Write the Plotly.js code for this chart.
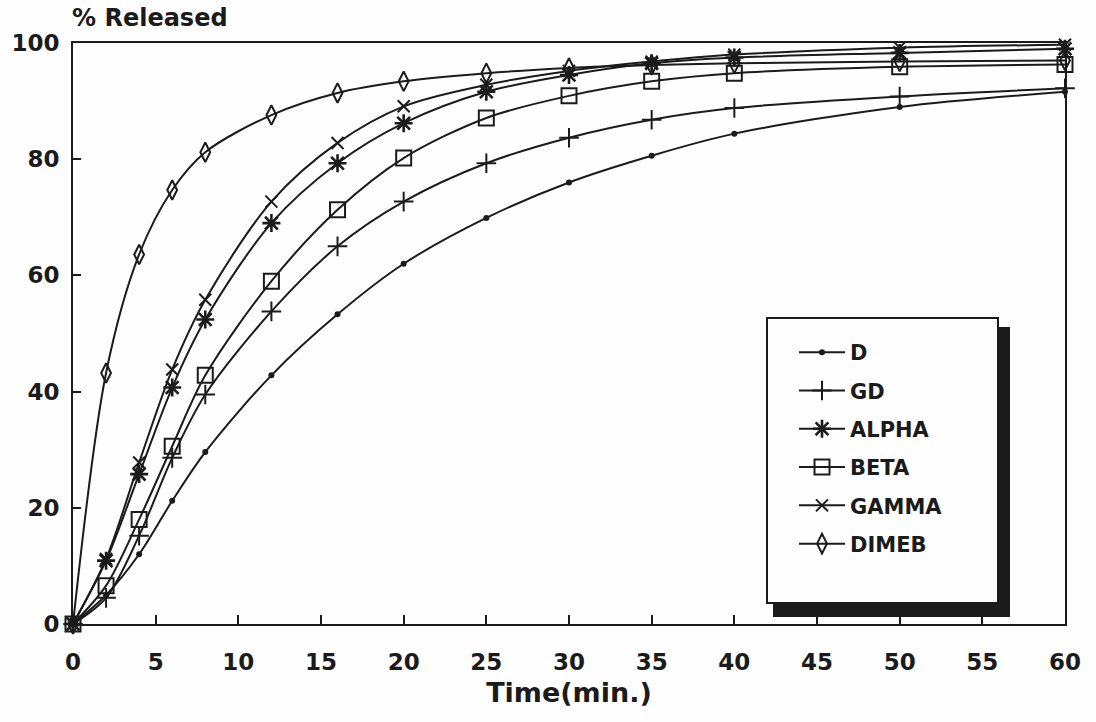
<!DOCTYPE html>
<html>
<head>
<meta charset="utf-8">
<script src="https://cdn.plot.ly/plotly-3.0.1.min.js"></script>
<style>
  html, body { margin: 0; padding: 0; background: #fefefe; }
  #chart { width: 1096px; height: 722px; }
</style>
</head>
<body>
<div id="chart"></div>
<script>
// Sampling times (min.)
const times = [0, 2, 4, 6, 8, 12, 16, 20, 25, 30, 35, 40, 50, 60];

// Cumulative drug released (%)
const releasedD     = [0, 5.0, 12.0, 21.2, 29.6, 42.8, 53.3, 62.0, 69.9, 76.0, 80.6, 84.4, 89.0, 91.6];
const releasedGD    = [0, 4.5, 15.2, 28.6, 39.5, 53.8, 65.0, 72.7, 79.3, 83.7, 86.8, 88.8, 90.8, 92.2];
const releasedAlpha = [0, 10.9, 25.8, 40.7, 52.4, 69.0, 79.3, 86.2, 91.6, 94.5, 96.5, 97.5, 98.3, 99.0];
const releasedBeta  = [0, 6.6, 18.0, 30.6, 42.8, 59.0, 71.3, 80.2, 87.1, 90.9, 93.4, 94.8, 95.9, 96.3];
const releasedGamma = [0, 11.2, 27.8, 43.8, 55.8, 72.7, 82.8, 89.1, 92.8, 95.2, 96.8, 98.0, 99.2, 99.7];
const releasedDimeb = [0, 43.2, 63.6, 74.7, 81.2, 87.6, 91.4, 93.4, 94.8, 95.7, 96.2, 96.5, 96.8, 97.0];

const seriesNames = ['D', 'GD', 'ALPHA', 'BETA', 'GAMMA', 'DIMEB'];
const seriesValues = [releasedD, releasedGD, releasedAlpha, releasedBeta, releasedGamma, releasedDimeb];

// Axis ticks
const xTicks = [0, 5, 10, 15, 20, 25, 30, 35, 40, 45, 50, 55, 60];
const yTicks = [0, 20, 40, 60, 80, 100];

const ink = '#1b1b1b';

// Marker style per series
const markerStyles = [
  { symbol: 'circle', size: 6, color: ink, line: { width: 0 } },
  { symbol: 'cross-thin', size: 14, color: ink, line: { width: 2, color: ink } },
  { symbol: 'asterisk', size: 15, color: ink, line: { width: 2.6, color: ink } },
  { symbol: 'square-open', size: 15, color: ink, line: { width: 2, color: ink } },
  { symbol: 'x-thin', size: 12, color: ink, line: { width: 2, color: ink } },
  { symbol: 'diamond-tall-open', size: 14, color: ink, line: { width: 2, color: ink } }
];

const traces = seriesNames.map((name, i) => ({
  type: 'scatter',
  mode: 'lines+markers',
  name: name,
  legendgroup: name,
  x: times,
  y: seriesValues[i],
  line: { color: ink, width: 2, shape: 'spline', smoothing: 0.9 },
  marker: markerStyles[i],
  cliponaxis: false
}));

// Plot area in pixels
const L = 73, R = 31, T = 43, B = 98;
const W = 1096, H = 722;
const pw = W - L - R, ph = H - T - B;
const px = v => (v - L) / pw;
const py = v => (H - B - v) / ph;

const tickFont = { family: 'DejaVu Sans', size: 23, weight: 'bold', color: ink };

const layout = {
  width: W,
  height: H,
  margin: { l: L, r: R, t: T, b: B, pad: 0 },
  paper_bgcolor: '#fefefe',
  plot_bgcolor: '#fefefe',
  showlegend: true,
  legend: {
    x: px(794), y: py(332), xanchor: 'left', yanchor: 'top',
    bgcolor: 'rgba(0,0,0,0)', borderwidth: 0,
    font: { family: 'DejaVu Sans', size: 21, weight: 'bold', color: ink },
    tracegroupgap: 8,
    itemwidth: 46,
    traceorder: 'grouped'
  },
  xaxis: {
    range: [0, 60],
    tickvals: xTicks,
    ticktext: xTicks.map(String),
    ticks: 'inside', ticklen: 9, tickwidth: 2, tickcolor: ink,
    showline: true, linewidth: 2, linecolor: ink, mirror: true,
    showgrid: false, zeroline: false,
    tickfont: tickFont,
    ticklabelstandoff: 16,
    title: { text: 'Time(min.)', font: { family: 'DejaVu Sans', size: 27, weight: 'bold', color: ink }, standoff: 10 }
  },
  yaxis: {
    range: [0, 100],
    tickvals: yTicks,
    ticktext: yTicks.map(String),
    ticks: 'inside', ticklen: 8, tickwidth: 2, tickcolor: ink,
    showline: true, linewidth: 2, linecolor: ink, mirror: true,
    showgrid: false, zeroline: false,
    tickfont: tickFont,
    ticklabelstandoff: 7
  },
  shapes: [
    // legend drop shadow
    { type: 'rect', xref: 'paper', yref: 'paper', layer: 'above',
      x0: px(773), x1: px(1010), y0: py(617), y1: py(327),
      fillcolor: ink, line: { width: 0 } },
    // legend frame
    { type: 'rect', xref: 'paper', yref: 'paper', layer: 'above',
      x0: px(767), x1: px(998), y0: py(603), y1: py(318),
      fillcolor: '#fefefe', line: { color: ink, width: 2 } }
  ],
  annotations: [
    { text: '% Released', xref: 'paper', yref: 'paper', x: 0, y: 1,
      xanchor: 'left', yanchor: 'middle', xshift: -3, yshift: 25,
      showarrow: false,
      font: { family: 'DejaVu Sans', size: 24, weight: 'bold', color: ink } }
  ]
};

Plotly.newPlot('chart', traces, layout, { displayModeBar: false, staticPlot: true });
</script>
</body>
</html>
